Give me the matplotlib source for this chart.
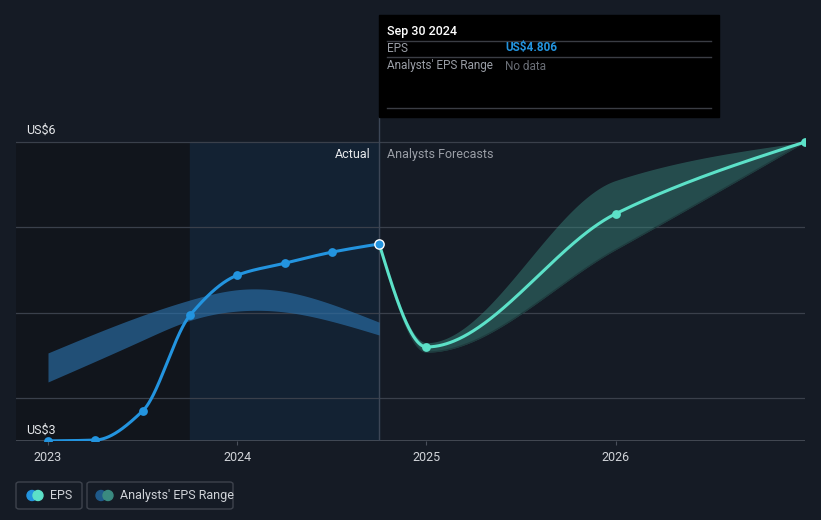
import matplotlib.pyplot as plt
import matplotlib.patches as mpatches
import numpy as np

plt.rcParams['font.family'] = ['Roboto', 'DejaVu Sans']

# Data (decimal years, EPS in US$)
actual_x = [2023.0, 2023.25, 2023.5, 2023.75, 2024.0, 2024.25, 2024.5, 2024.75]
actual_eps = [2.50, 2.51, 2.85, 3.97, 4.44, 4.58, 4.71, 4.806]

band_x = [2023.0, 2023.5, 2023.75, 2024.0, 2024.25, 2024.5, 2024.75]
past_upper = [3.53, 3.97, 4.15, 4.27, 4.25, 4.10, 3.89]
past_lower = [3.19, 3.68, 3.91, 4.02, 4.01, 3.90, 3.74]

fc_x = [2024.75, 2025.0, 2026.0, 2027.0]
fc_eps = [4.806, 3.60, 5.16, 6.0]
fc_upper = [4.806, 3.65, 5.55, 6.0]
fc_lower = [4.806, 3.54, 4.74, 6.0]

year_ticks = [2023, 2024, 2025, 2026]
year_labels = ['2023', '2024', '2025', '2026']

BG = '#151b25'
BLUE = '#2394df'
TEAL = '#5ce1c8'
W, H = 821, 520


def monotone(x, y, n=200):
    # monotone cubic, like d3 curveMonotoneX
    x = np.asarray(x, float)
    y = np.asarray(y, float)
    h = np.diff(x)
    d = np.diff(y) / h
    m = np.zeros_like(y)
    for i in range(1, len(y) - 1):
        if d[i - 1] * d[i] <= 0:
            m[i] = 0
        else:
            w1 = 2 * h[i] + h[i - 1]
            w2 = h[i] + 2 * h[i - 1]
            m[i] = (w1 + w2) / (w1 / d[i - 1] + w2 / d[i])
    m[0] = (3 * d[0] - m[1]) / 2 if len(y) > 2 else d[0]
    m[-1] = (3 * d[-1] - m[-2]) / 2 if len(y) > 2 else d[-1]
    xs, ys = [], []
    for i in range(len(x) - 1):
        t = np.linspace(0, 1, n)
        h00 = 2 * t**3 - 3 * t**2 + 1
        h10 = t**3 - 2 * t**2 + t
        h01 = -2 * t**3 + 3 * t**2
        h11 = t**3 - t**2
        xs.append(x[i] + t * h[i])
        ys.append(h00 * y[i] + h10 * h[i] * m[i] + h01 * y[i + 1] + h11 * h[i] * m[i + 1])
    return np.concatenate(xs), np.concatenate(ys)


def natural(x, y, n=400):
    # natural cubic spline for the smooth range band
    x = np.asarray(x, float)
    y = np.asarray(y, float)
    k = len(x)
    h = np.diff(x)
    A = np.zeros((k, k))
    b = np.zeros(k)
    A[0, 0] = A[-1, -1] = 1
    for i in range(1, k - 1):
        A[i, i - 1] = h[i - 1]
        A[i, i] = 2 * (h[i - 1] + h[i])
        A[i, i + 1] = h[i]
        b[i] = 6 * ((y[i + 1] - y[i]) / h[i] - (y[i] - y[i - 1]) / h[i - 1])
    M = np.linalg.solve(A, b)
    xs = np.linspace(x[0], x[-1], n)
    idx = np.clip(np.searchsorted(x, xs) - 1, 0, k - 2)
    x0, x1 = x[idx], x[idx + 1]
    hh = x1 - x0
    ys = (M[idx] * (x1 - xs)**3 / (6 * hh) + M[idx + 1] * (xs - x0)**3 / (6 * hh)
          + (y[idx] / hh - M[idx] * hh / 6) * (x1 - xs)
          + (y[idx + 1] / hh - M[idx + 1] * hh / 6) * (xs - x0))
    return xs, ys


fig = plt.figure(figsize=(W / 100, H / 100), dpi=100, facecolor=BG)
ax = fig.add_axes([16 / W, (H - 441) / H, (805 - 16) / W, (441 - 14) / H])
ax.set_facecolor(BG)

px_per_unit = 85.4
ymin = 6 - (441 - 142) / px_per_unit
ymax = 6 + (142 - 14) / px_per_unit
ax.set_ylim(ymin, ymax)
ax.set_xlim(2023 - 32 / 189.3, 2027.0)

# shaded history regions
top_frac = (6 - ymin) / (ymax - ymin)
ax.axvspan(ax.get_xlim()[0], 2023.75, ymax=top_frac, color='#11151c', zorder=0)
ax.axvspan(2023.75, 2024.75, ymax=top_frac, color='#132233', zorder=0)

for v in [3, 4, 5, 6]:
    ax.axhline(v, color='#3a404b', lw=0.9, zorder=1)
ax.axhline(ymin, color='#4a505b', lw=1.2, zorder=1)
ax.axvline(2024.75, ymax=(6 + (142 - 117) / px_per_unit - ymin) / (ymax - ymin),
           color='#3c4656', lw=1, zorder=1)

# past range band
bx, bu = natural(band_x, past_upper)
_, bl = natural(band_x, past_lower)
ax.fill_between(bx, bl, bu, color='#2a6fa8', alpha=0.65, lw=0, zorder=2)

# forecast band
fx, fu = monotone(fc_x, fc_upper)
_, fl = monotone(fc_x, fc_lower)
ax.fill_between(fx, fl, fu, color='#3a8a80', alpha=0.45, lw=0, zorder=2)
ax.plot(fx, fl, color='#1f3b3e', lw=1, zorder=2)

# lines
ax.plot(*monotone(fc_x, fc_eps), color=TEAL, lw=2.2, zorder=3)
ax.plot(*monotone(actual_x, actual_eps), color=BLUE, lw=2.2, zorder=4)
ax.scatter(actual_x[:-1], actual_eps[:-1], s=40, color=BLUE, zorder=5, lw=0)
ax.scatter(fc_x[1:], fc_eps[1:], s=40, color=TEAL, zorder=5, lw=0)
ax.scatter([actual_x[-1]], [actual_eps[-1]], s=45, color=BLUE, edgecolor='white',
           lw=1, zorder=6)

for s in ax.spines.values():
    s.set_visible(False)
ax.set_yticks([])
ax.set_xticks(year_ticks)
ax.set_xticklabels(year_labels, color='#d0d3d8', fontsize=9)
ax.tick_params(axis='x', length=3, color='#4a505b', pad=4)


def ft(x, y, s, **kw):
    fig.text(x / W, 1 - y / H, s, va='center', **kw)


ft(26, 130, 'US$6', color='#e6e8eb', fontsize=9)
ft(26, 430, 'US$3', color='#e6e8eb', fontsize=9)
ft(371, 154, 'Actual', color='#e6e8eb', fontsize=9, ha='right')
ft(387, 154, 'Analysts Forecasts', color='#9a9ea6', fontsize=9)

# tooltip
fig.patches.append(mpatches.Rectangle((379 / W, 1 - 117 / H), 340 / W, 102 / H,
                                      transform=fig.transFigure, color='black', zorder=10))
for yl in [41, 57, 108]:
    fig.add_artist(plt.Line2D([387 / W, 711 / W], [1 - yl / H] * 2, color='#3a3d44',
                              lw=1, zorder=11))
ft(387, 31, 'Sep 30 2024', color='white', fontsize=9, fontweight='medium', zorder=12)
ft(387, 48, 'EPS', color='#9a9ea6', fontsize=8.5, zorder=12)
ft(505, 48, 'US$4.806', color=BLUE, fontsize=8.5, fontweight='bold', zorder=12)
ft(387, 66, "Analysts' EPS Range", color='#9a9ea6', fontsize=8.5, zorder=12)
ft(505, 66, 'No data', color='#6a6e76', fontsize=8.5, zorder=12)

# legend
for x0, x1 in [(16, 82), (87, 233)]:
    fig.patches.append(mpatches.FancyBboxPatch(
        (x0 / W, 1 - 509 / H), (x1 - x0) / W, 27 / H, transform=fig.transFigure,
        boxstyle='round,pad=0,rounding_size=0.004', fc='none', ec='#3e434d', lw=1))
for x, c in [(32, BLUE), (38, TEAL), (101, '#1f5a8a'), (108, '#3a8a80')]:
    fig.add_artist(mpatches.Ellipse((x / W, 1 - 495.5 / H), 10 / W, 10 / H,
                                    transform=fig.transFigure, color=c))
ft(50, 495.5, 'EPS', color='#d0d3d8', fontsize=9)
ft(120, 495.5, "Analysts' EPS Range", color='#d0d3d8', fontsize=9)

fig.savefig('out.png', dpi=100, facecolor=BG)
